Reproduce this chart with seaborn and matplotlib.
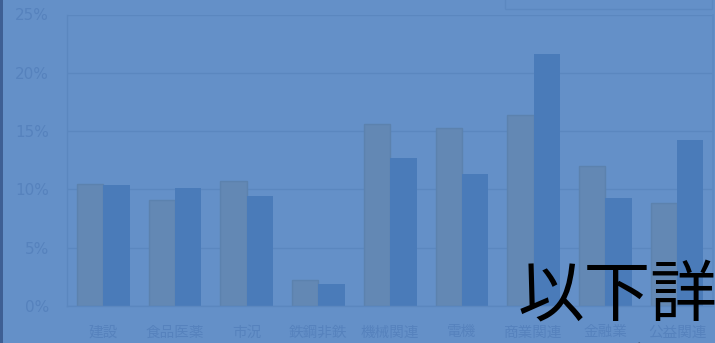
import matplotlib
matplotlib.use("Agg")
import matplotlib.pyplot as plt
import seaborn as sns
import pandas as pd
from matplotlib.patches import Rectangle, Patch

categories = ["建設", "食品医薬", "市況", "鉄鋼非鉄", "機械関連", "電機", "商業関連", "金融業", "公益関連"]
series_names = ["前回調査", "今回調査"]
values_prev = [10.5, 9.05, 10.7, 2.25, 15.6, 15.3, 16.4, 12.0, 8.85]
values_curr = [10.4, 10.1, 9.4, 1.9, 12.7, 11.3, 21.6, 9.3, 14.2]
ytick_vals = [0, 5, 10, 15, 20, 25]
ytick_labels = ["0%", "5%", "10%", "15%", "20%", "25%"]
overlay_line1 = "以下詳しく"
overlay_line2 = "ご説明します"

df = pd.DataFrame({
    "category": categories * 2,
    "series": [series_names[0]] * len(categories) + [series_names[1]] * len(categories),
    "value": values_prev + values_curr,
})

BG = "#6490C8"
C1 = "#6388B4"
C2 = "#4A7BB9"
GRID = "#5B87BF"
TXT = "#5682BD"

sns.set_theme(style="white")
plt.rcParams["font.family"] = ["Noto Sans CJK JP", "DejaVu Sans"]

fig = plt.figure(figsize=(7.15, 3.43), dpi=100, facecolor=BG)
ax = fig.add_axes([67.3 / 715, 1 - 306 / 343, (713 - 67.3) / 715, (306 - 14.5) / 343])
ax.set_facecolor(BG)

sns.barplot(data=df, x="category", y="value", hue="series", order=categories,
            hue_order=series_names, palette=[C1, C2], saturation=1, width=0.735,
            ax=ax, legend=False, edgecolor=None, linewidth=0)
for i, p in enumerate(ax.patches):
    if i < len(categories):
        p.set_edgecolor("#5C82AE")
        p.set_linewidth(1.0)

ax.set_xlim(-0.5, len(categories) - 0.5)
ax.set_ylim(0, 25)
ax.set_yticks(ytick_vals)
ax.set_yticklabels(ytick_labels)
ax.yaxis.grid(True, color=GRID, linewidth=1.0)
ax.set_axisbelow(True)
ax.set_xlabel("")
ax.set_ylabel("")
ax.spines["top"].set_visible(False)
ax.spines["right"].set_color("#5E8AC2")
for s in ["left", "bottom"]:
    ax.spines[s].set_color(GRID)
    ax.spines[s].set_linewidth(1.0)
ax.tick_params(axis="y", colors=TXT, labelsize=11, length=0, pad=13)
ax.tick_params(axis="x", colors=TXT, labelsize=10.5, length=0, pad=14)
for lbl in ax.get_yticklabels():
    lbl.set_fontfamily(["DejaVu Sans"])
ax.set_xticks([i - 0.5 for i in range(1, len(categories))], minor=True)
ax.tick_params(axis="x", which="minor", direction="in", length=5, color=GRID, width=1)

# legend (mostly cut off at top)
handles = [Patch(facecolor=C1, edgecolor="#5C82AE"), Patch(facecolor=C2)]
leg = fig.legend(handles, series_names, loc="lower right", ncol=2,
                 bbox_to_anchor=(712 / 715, 1 - 9 / 343), borderaxespad=0,
                 frameon=True, fontsize=10, labelcolor=TXT, borderpad=0.8,
                 columnspacing=1.7, handlelength=1.0, handleheight=1.0,
                 handletextpad=0.8, fancybox=False)
leg.get_frame().set_facecolor(BG)
leg.get_frame().set_edgecolor(GRID)

# dark strip on left
fig.patches.append(Rectangle((0, 0), 3 / 715, 1, transform=fig.transFigure,
                             facecolor="#3E5F94", edgecolor="none", zorder=5))

# big overlay text
fig.text(518 / 715, 1 - 316 / 343, overlay_line1, fontsize=48, color="black",
         ha="left", va="baseline", family=["Noto Sans CJK JP"])
fig.text(518 / 715, 1 - 399 / 343, overlay_line2, fontsize=48, color="black",
         ha="left", va="baseline", family=["Noto Sans CJK JP"])

fig.savefig("out.png", dpi=100, facecolor=BG)
